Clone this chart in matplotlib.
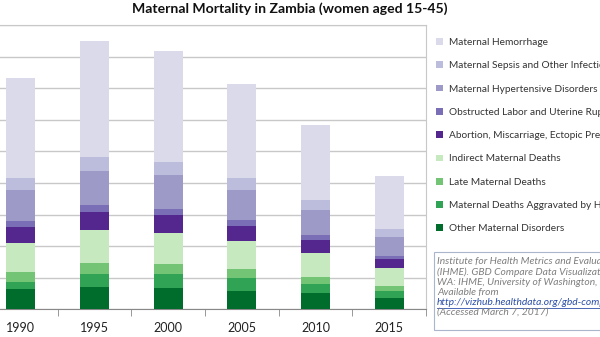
import numpy as np
import matplotlib
matplotlib.use("Agg")
import matplotlib.pyplot as plt
from matplotlib.patches import Rectangle, Patch
from matplotlib.lines import Line2D

plt.rcParams['font.family'] = ['Lato', 'DejaVu Sans']

years = ["1990", "1995", "2000", "2005", "2010", "2015"]

# stacked bottom -> top
causes = [
    "Other Maternal Disorders",
    "Maternal Deaths Aggravated by HIV/AIDS",
    "Late Maternal Deaths",
    "Indirect Maternal Deaths",
    "Abortion, Miscarriage, Ectopic Pregnancy",
    "Obstructed Labor and Uterine Rupture",
    "Maternal Hypertensive Disorders",
    "Maternal Sepsis and Other Infections",
    "Maternal Hemorrhage",
]
other = [63, 72, 68, 59, 51, 37]
hiv = [24, 41, 44, 39, 29, 22]
late = [30, 34, 31, 29, 23, 16]
indirect = [94, 104, 98, 89, 76, 56]
abortion = [50, 57, 57, 48, 40, 27]
obstructed = [19, 22, 20, 19, 16, 11]
hypertensive = [98, 109, 106, 95, 79, 59]
sepsis = [38, 44, 41, 37, 32, 25]
hemorrhage = [315, 367, 352, 298, 237, 169]

colors = ["#006d2c", "#31a354", "#74c476", "#c7e9c0",
          "#54278f", "#7a6fb6", "#9e9ac8", "#bcbddc", "#dadaeb"]

series = [other, hiv, late, indirect, abortion, obstructed,
          hypertensive, sepsis, hemorrhage]

fig = plt.figure(figsize=(6, 3.37), dpi=100)
W, H = 600, 337
ax = fig.add_axes([-16 / W, (H - 309.3) / H, 442 / W, (309.3 - 25) / H])

x = np.arange(len(years))
bottom = np.zeros(len(years))
for vals, col, name in zip(series, colors, causes):
    ax.bar(x, vals, width=0.39, bottom=bottom, color=col, label=name, zorder=3)
    bottom += np.array(vals)

ax.set_xlim(-0.5, len(years) - 0.5)
ax.set_ylim(0, 900)
ax.set_yticks(np.arange(0, 901, 100))
ax.yaxis.grid(True, color="#c8c8c8", linewidth=1, zorder=0)
ax.tick_params(axis="y", length=0, labelleft=False)
ax.set_xticks(x)
ax.set_xticklabels(years, fontsize=9, color="#222222")
ax.set_xticks(np.arange(-0.5, len(years)), minor=True)
ax.tick_params(axis="x", which="major", length=0, pad=9)
ax.tick_params(axis="x", which="minor", length=5, color="#888888", direction="out")
for s in ["top", "right"]:
    ax.spines[s].set_color("#c8c8c8")
ax.spines["left"].set_visible(False)
ax.spines["bottom"].set_color("#888888")

fig.text(290 / W, 1 - 9 / H, "Maternal Mortality in Zambia (women aged 15-45)",
         ha="center", va="center", fontsize=10.1, fontweight="bold", color="#111111")

handles = [Patch(facecolor=c, edgecolor="none") for c in colors][::-1]
fig.legend(handles, causes[::-1], loc="upper left",
           bbox_to_anchor=(436 / W, 1 - 38 / H), frameon=False,
           fontsize=7.3, handlelength=0.65, handleheight=0.65, handletextpad=0.6,
           labelspacing=1.41, borderpad=0, borderaxespad=0, labelcolor="#333333")

# source box
fig.patches.append(Rectangle((434 / W, 1 - 330 / H), 200 / W, 78 / H,
                             transform=fig.transFigure, facecolor="white",
                             edgecolor="#a9b6cc", linewidth=0.8))
src = ["Institute for Health Metrics and Evaluation",
       "(IHME). GBD Compare Data Visualization. Seattle,",
       "WA: IHME, University of Washington, 2016.",
       "Available from"]
ys = [261.7, 272.3, 282.3, 292]
for line, yy in zip(src, ys):
    fig.text(437 / W, 1 - yy / H, line, fontsize=7.4, style="italic",
             color="#7f7f7f", va="center")
fig.text(437 / W, 1 - 302.7 / H, "http://vizhub.healthdata.org/gbd-compare",
         fontsize=7.4, style="italic", color="#2b4fa8", va="center")
fig.add_artist(Line2D([437 / W, 1], [1 - 307.5 / H, 1 - 307.5 / H],
                      transform=fig.transFigure, color="#2b4fa8", linewidth=0.6))
fig.text(437 / W, 1 - 312.3 / H, "(Accessed March 7, 2017)", fontsize=7.4,
         style="italic", color="#7f7f7f", va="center")

fig.savefig("out.png", dpi=100)
